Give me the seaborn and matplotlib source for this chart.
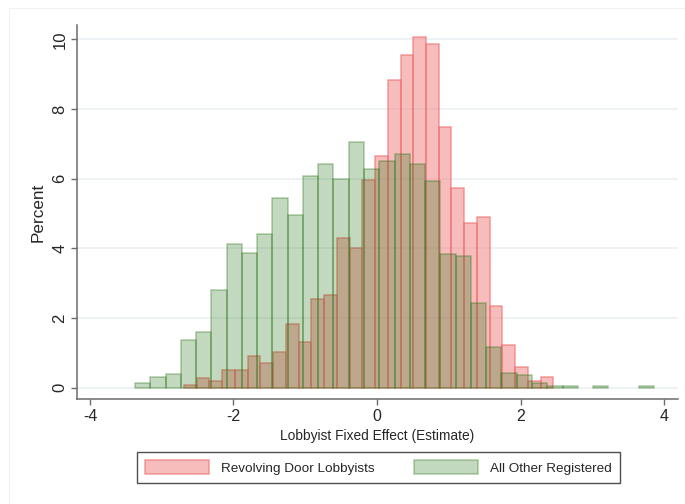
import numpy as np
import pandas as pd
import matplotlib
matplotlib.use("Agg")
import matplotlib.pyplot as plt
import seaborn as sns

# ── Data (percent per bin) ─────────────────────────────────────────────────
REVOLVING_LABEL = "Revolving Door Lobbyists"
OTHER_LABEL = "All Other Registered"

revolving_start = -2.690
revolving_width = 0.1775
revolving_pct = [
    0.08, 0.29, 0.19, 0.51, 0.51, 0.91, 0.70, 1.02, 1.83, 1.32,
    2.55, 2.66, 4.31, 4.00, 5.96, 6.66, 8.83, 9.56, 10.07, 9.86,
    7.49, 5.74, 4.72, 4.91, 2.34, 1.23, 0.59, 0.18, 0.30,
]

other_start = -3.373
other_width = 0.2128
other_pct = [
    0.13, 0.32, 0.40, 1.37, 1.61, 2.80, 4.12, 3.86, 4.40, 5.45,
    4.95, 6.08, 6.43, 5.99, 7.04, 6.28, 6.52, 6.71, 6.43, 5.92,
    3.83, 3.79, 2.43, 1.18, 0.41, 0.36, 0.14, 0.04, 0.04, 0.0,
    0.04, 0.0, 0.0, 0.04,
]

x_ticks = [-4, -2, 0, 2, 4]
y_ticks = [0, 2, 4, 6, 8, 10]


def bin_table(start, width, pct):
    edges = start + width * np.arange(len(pct) + 1)
    df = pd.DataFrame({"x": (edges[:-1] + edges[1:]) / 2, "w": pct})
    return df, edges.tolist()


def main():
    sns.set_style("white")
    plt.rcParams["font.family"] = ["Liberation Sans", "DejaVu Sans"]

    fig = plt.figure(figsize=(6.85, 5.04), dpi=100)
    ax = fig.add_axes([0.1124, 0.2083, 0.8774, 0.7421])

    r_df, r_edges = bin_table(revolving_start, revolving_width, revolving_pct)
    o_df, o_edges = bin_table(other_start, other_width, other_pct)

    sns.histplot(data=r_df, x="x", weights="w", bins=r_edges, ax=ax,
                 label=REVOLVING_LABEL,
                 facecolor=(241 / 255, 125 / 255, 125 / 255, 0.5),
                 edgecolor=(238 / 255, 110 / 255, 110 / 255, 0.65),
                 linewidth=1.1, zorder=2)
    sns.histplot(data=o_df, x="x", weights="w", bins=o_edges, ax=ax,
                 label=OTHER_LABEL,
                 facecolor=(19 / 255, 107 / 255, 0.0, 0.25),
                 edgecolor=(40 / 255, 115 / 255, 20 / 255, 0.36),
                 linewidth=1.1, zorder=3)

    # empty bins draw nothing
    for p in ax.patches:
        if p.get_height() == 0:
            p.set_visible(False)

    ax.set_xlim(-4.181, 4.195)
    ax.set_ylim(-0.324, 10.41)
    ax.set_xticks(x_ticks)
    ax.set_yticks(y_ticks)
    ax.set_xticklabels([str(t) for t in x_ticks], fontsize=11.5)
    ax.set_yticklabels([str(t) for t in y_ticks], fontsize=12,
                       rotation=90, va="center")

    ax.yaxis.grid(True, color="#e8f0f2", linewidth=1.1, zorder=0)
    ax.set_axisbelow(True)

    for side in ["top", "right"]:
        ax.spines[side].set_visible(False)
    for side in ["left", "bottom"]:
        ax.spines[side].set_color("#6b6b6b")
        ax.spines[side].set_linewidth(1.1)
    ax.tick_params(direction="out", length=4, width=1, color="#6b6b6b",
                   left=True, bottom=True, pad=3)

    ax.set_xlabel("Lobbyist Fixed Effect (Estimate)", fontsize=9.9, labelpad=4)
    ax.set_ylabel("Percent", fontsize=12.3, labelpad=5)

    handles, labels = ax.get_legend_handles_labels()
    leg = fig.legend(handles, labels, loc="center", bbox_to_anchor=(0.552, 0.0724),
                     ncol=2, fontsize=9.7, frameon=True, fancybox=False,
                     handlelength=4.75, handleheight=1.18, handletextpad=0.9,
                     columnspacing=2.9, borderpad=0.6)
    leg.get_frame().set_edgecolor("#222222")
    leg.get_frame().set_linewidth(1.0)

    # faint outer graph region
    fig.patches.append(plt.Rectangle((9 / 685, -0.1), 1.2, (504 - 8) / 504 + 0.1,
                                     transform=fig.transFigure, fill=False,
                                     edgecolor="#f2f2f2", linewidth=0.8))

    fig.savefig("out.png", dpi=100)
    plt.close(fig)


if __name__ == "__main__":
    main()
